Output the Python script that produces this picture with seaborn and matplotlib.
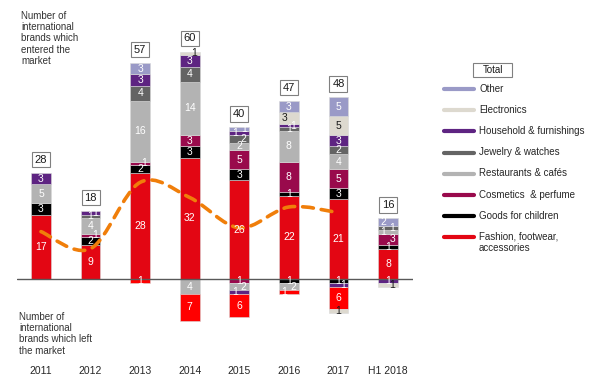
import numpy as np
import pandas as pd
import matplotlib
matplotlib.use("Agg")
import matplotlib.pyplot as plt
from matplotlib.path import Path
from matplotlib.patches import PathPatch, Rectangle
from matplotlib.lines import Line2D
import seaborn as sns

# ---------------- data ----------------
years = ["2011", "2012", "2013", "2014", "2015", "2016", "2017", "H1 2018"]

categories = ["Fashion, footwear,\naccessories", "Goods for children", "Cosmetics  & perfume",
              "Restaurants & cafés", "Jewelry & watches", "Household & furnishings",
              "Electronics", "Other"]

# brands which entered the market (stack order bottom -> top)
fashion_in = [17, 9, 28, 32, 26, 22, 21, 8]
children_in = [3, 2, 2, 3, 3, 1, 3, 1]
cosmetics_in = [0, 1, 1, 3, 5, 8, 5, 3]
restaurants_in = [5, 4, 16, 14, 2, 8, 4, 1]
jewelry_in = [0, 1, 4, 4, 2, 1, 2, 1]
household_in = [3, 1, 3, 3, 1, 1, 3, 0]
electronics_in = [0, 0, 0, 1, 0, 3, 5, 0]
other_in = [0, 0, 3, 0, 1, 3, 5, 2]

# brands which left the market (stacked downward from the axis)
children_out = [0, 0, 0, 0, 0, 1, 1, 0]
cosmetics_out = [0, 0, 0, 0, 1, 0, 0, 0]
restaurants_out = [0, 0, 0, 4, 2, 2, 0, 0]
household_out = [0, 0, 0, 0, 1, 0, 1, 1]
fashion_out = [0, 0, 1, 7, 6, 1, 6, 0]
electronics_out = [0, 0, 0, 0, 0, 0, 1, 1]

# orange dashed (smoothed) line, 2011-2017
line_values = [12.5, 8.0, 25.5, 21.5, 13.5, 19.0, 17.5]

# ---------------- styles ----------------
col = {
    "fashion": "#E30613", "fashion_out": "#FF0000", "children": "#000000",
    "cosmetics": "#990A4C", "restaurants": "#B3B3B3", "jewelry": "#646464",
    "household": "#5E2482", "electronics": "#DDD9CF", "other": "#9A9AC7",
}
txtcol = {k: "white" for k in col}
txtcol["electronics"] = "#1a1a1a"

pos_layers = [("fashion", fashion_in), ("children", children_in), ("cosmetics", cosmetics_in),
              ("restaurants", restaurants_in), ("jewelry", jewelry_in),
              ("household", household_in), ("electronics", electronics_in), ("other", other_in)]
neg_layers = [("children", children_out), ("cosmetics", cosmetics_out),
              ("restaurants", restaurants_out), ("household", household_out),
              ("fashion_out", fashion_out), ("electronics", electronics_out)]

sns.set_theme(style="white")
plt.rcParams["font.family"] = ["Liberation Sans", "DejaVu Sans"]

W, H = 602, 387
fig = plt.figure(figsize=(W / 100, H / 100), dpi=100)
fig.patch.set_facecolor("white")

zero_px = 279.0
ppu = 3.79
ax_left_px, ax_right_px, ax_bot_px = 17, 413, 362
ax = fig.add_axes([ax_left_px / W, 1 - ax_bot_px / H, (ax_right_px - ax_left_px) / W, ax_bot_px / H])
ax.set_facecolor("white")

BW = 0.4
n = len(years)


def draw_layers(layers, sign):
    bottom = np.zeros(n)
    last_y = np.full(n, np.nan)
    last_dx = np.zeros(n)
    for key, vals in layers:
        vals = np.array(vals, dtype=float) * sign
        mask = vals != 0
        if mask.any():
            df = pd.DataFrame({"year": np.array(years)[mask], "val": vals[mask]})
            sns.barplot(data=df, x="year", y="val", order=years, color=col[key],
                        saturation=1, width=BW, errorbar=None, ax=ax,
                        bottom=bottom[mask], edgecolor="#d9d9d9", linewidth=0.4, zorder=2)
            for i in np.where(mask)[0]:
                yc = bottom[i] + vals[i] / 2
                dx = 0.0
                if not np.isnan(last_y[i]) and abs(yc - last_y[i]) < 2.2:
                    dx = 0.09 if last_dx[i] <= 0 else -0.09
                ax.text(i + dx, yc, f"{abs(int(vals[i]))}", ha="center",
                        va="center", fontsize=7.5, color=txtcol[key], zorder=6)
                last_y[i] = yc
                last_dx[i] = dx
        bottom = bottom + vals
    return bottom


tops = draw_layers(pos_layers, 1)
draw_layers(neg_layers, -1)

# totals in boxes
for i, t in enumerate(tops):
    ax.text(i, t + 3.5, f"{int(t)}", ha="center", va="center", fontsize=8, color="#1a1a1a",
            zorder=7, bbox=dict(boxstyle="square,pad=0.25", fc="white", ec="#808080", lw=0.8))

# smoothed orange dashed line (Bezier through the data points)
xs = np.arange(len(line_values), dtype=float)
ys = np.array(line_values, dtype=float)
pts = np.column_stack([xs, ys])
ext = np.vstack([pts[0], pts, pts[-1]])
verts = [tuple(pts[0])]
codes = [Path.MOVETO]
for k in range(len(pts) - 1):
    p0, p1, p2, p3 = ext[k], ext[k + 1], ext[k + 2], ext[k + 3]
    c1 = p1 + (p2 - p0) / 6.0
    c2 = p2 - (p3 - p1) / 6.0
    verts += [tuple(c1), tuple(c2), tuple(p2)]
    codes += [Path.CURVE4] * 3
patch = PathPatch(Path(verts, codes), fill=False, edgecolor="#F07E0A", lw=2.6,
                  linestyle=(0, (3, 2.2)), capstyle="round", zorder=5)
ax.add_patch(patch)

# zero line
ax.axhline(0, color="#595959", lw=1.0, zorder=4)

ax.set_xlim(-(41 - ax_left_px) / 49.6, 7 + (ax_right_px - 388) / 49.6)
ax.set_ylim(-(ax_bot_px - zero_px) / ppu, zero_px / ppu)
for s in ax.spines.values():
    s.set_visible(False)
ax.set_xticks(range(n))
ax.set_xticklabels(years, fontsize=7.5, color="#262626")
ax.tick_params(axis="x", length=0, pad=3)
ax.set_yticks([])
ax.set_xlabel("")
ax.set_ylabel("")
ax.grid(False)

# side annotations
fig.text(21 / W, 1 - 11 / H, "Number of\ninternational\nbrands which\nentered the\nmarket",
         fontsize=7, color="#333333", va="top", ha="left", linespacing=1.15)
fig.text(19 / W, 1 - 312 / H, "Number of\ninternational\nbrands which left\nthe market",
         fontsize=7, color="#333333", va="top", ha="left", linespacing=1.15)

# legend
fig.add_artist(Rectangle((473 / W, 1 - 77 / H), 39 / W, 14 / H, transform=fig.transFigure,
                         fc="white", ec="#808080", lw=0.8))
fig.text(492.5 / W, 1 - 70 / H, "Total", fontsize=7, color="#1a1a1a", ha="center", va="center")
leg_keys = ["other", "electronics", "household", "jewelry", "restaurants", "cosmetics",
            "children", "fashion"]
leg_labels = categories[::-1]
for j, (k, lab) in enumerate(zip(leg_keys, leg_labels)):
    y = 89 + j * 21.2
    fig.add_artist(Line2D([444 / W, 474 / W], [1 - y / H, 1 - y / H], transform=fig.transFigure,
                          color=col[k], lw=3))
    fig.text(479 / W, 1 - (y - 5.5) / H, lab, fontsize=7, color="#262626", ha="left", va="top",
             linespacing=1.15)

fig.savefig("out.png", dpi=100, facecolor="white")
